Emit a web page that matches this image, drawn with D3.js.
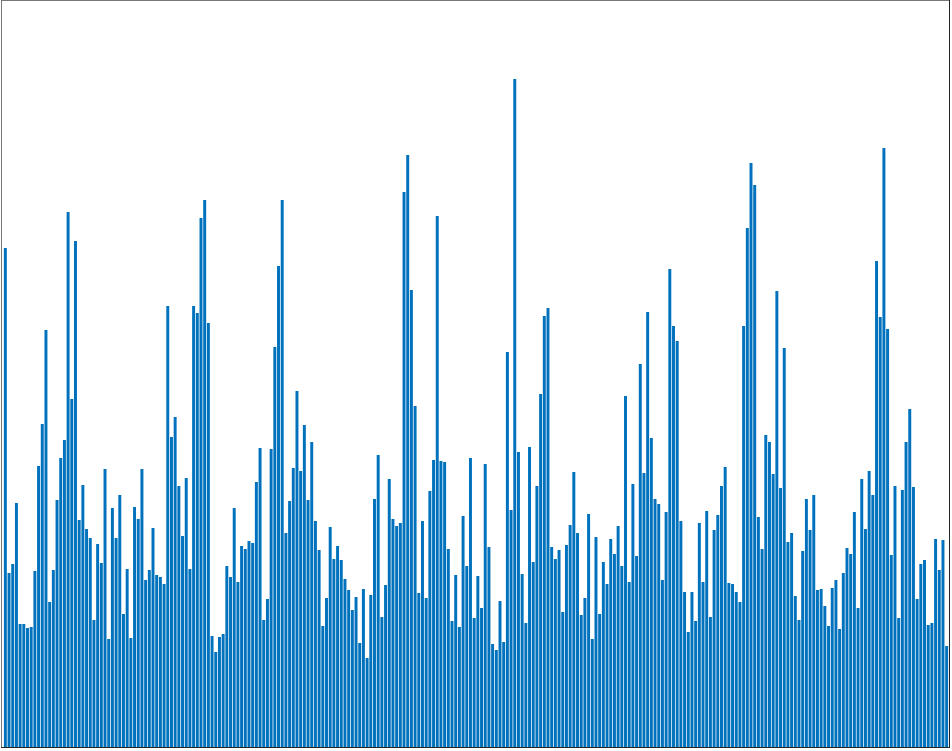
<!DOCTYPE html>
<html>
<head>
<meta charset="utf-8">
<script src="https://cdn.jsdelivr.net/npm/d3@7/dist/d3.min.js"></script>
<style>
  html, body { margin: 0; padding: 0; background: #fff; }
  svg { display: block; }
</style>
</head>
<body>
<svg id="chart"></svg>
<script>
// histogram counts, 256 bins
const counts = [
  499, 174, 183, 244, 123, 123, 119, 120, 176, 281, 323, 417, 145, 177, 247, 289,
  307, 535, 348, 506, 227, 262, 218, 209, 127, 203, 184, 278, 108, 239, 209, 252,
  133, 178, 109, 240, 228, 278, 167, 177, 219, 172, 170, 163, 441, 310, 330, 261,
  211, 269, 178, 441, 434, 529, 547, 424, 111, 95, 110, 113, 181, 170, 239, 165,
  201, 198, 206, 204, 265, 299, 127, 148, 298, 400, 481, 547, 214, 246, 279, 356,
  276, 322, 247, 305, 226, 197, 121, 149, 220, 188, 201, 187, 168, 157, 137, 150,
  104, 158, 89, 152, 248, 292, 130, 162, 268, 228, 221, 224, 555, 592, 457, 341,
  154, 226, 149, 256, 287, 531, 286, 285, 198, 126, 172, 120, 231, 181, 289, 129,
  171, 139, 283, 200, 103, 97, 146, 105, 395, 237, 668, 295, 173, 124, 300, 185,
  261, 353, 431, 439, 200, 188, 197, 135, 202, 222, 275, 214, 132, 149, 233, 108,
  210, 133, 185, 163, 208, 193, 221, 181, 351, 165, 263, 191, 383, 274, 435, 309,
  248, 243, 167, 235, 478, 421, 406, 226, 155, 115, 155, 126, 224, 165, 236, 130,
  217, 232, 261, 280, 164, 163, 155, 145, 421, 519, 584, 562, 230, 198, 312, 305,
  273, 456, 259, 399, 205, 214, 151, 127, 196, 248, 217, 252, 157, 158, 141, 121,
  159, 167, 118, 174, 199, 193, 235, 139, 268, 218, 276, 252, 486, 430, 599, 418,
  192, 261, 129, 257, 305, 338, 260, 148, 183, 187, 122, 124, 208, 177, 207, 101
];
const bins = d3.range(counts.length);
const yMax = 700;

const W = 952, H = 751;
const svg = d3.select("#chart").attr("width", W).attr("height", H);

const x = d3.scaleBand()
  .domain(bins)
  .range([3.5, 948.5])
  .paddingInner(0.2)
  .paddingOuter(0.1);

const y = d3.scaleLinear()
  .domain([0, yMax])
  .range([747, 47]);

svg.append("g")
  .selectAll("rect")
  .data(counts)
  .join("rect")
  .attr("x", (d, i) => x(i))
  .attr("width", x.bandwidth())
  .attr("y", d => y(d))
  .attr("height", d => y(0) - y(d))
  .attr("fill", "#0072BD");

// axes box, no ticks
svg.append("line").attr("x1", 1.5).attr("x2", 950).attr("y1", 0.5).attr("y2", 0.5)
  .attr("stroke", "#777").attr("stroke-width", 1);
svg.append("line").attr("x1", 1.5).attr("x2", 1.5).attr("y1", 0).attr("y2", 748)
  .attr("stroke", "#777").attr("stroke-width", 1);
svg.append("line").attr("x1", 949.5).attr("x2", 949.5).attr("y1", 0).attr("y2", 748)
  .attr("stroke", "#262626").attr("stroke-width", 1);
svg.append("line").attr("x1", 1).attr("x2", 950).attr("y1", 747.5).attr("y2", 747.5)
  .attr("stroke", "#262626").attr("stroke-width", 1);
</script>
</body>
</html>
